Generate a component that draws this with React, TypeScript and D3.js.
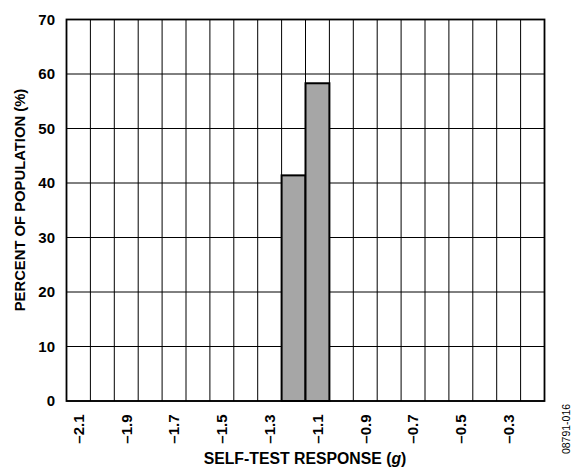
import React from "react";
import * as d3 from "d3";

// Self-test response bins (g) and share of population (%)
const bins: string[] = [
  "-2.1", "-2.0", "-1.9", "-1.8", "-1.7", "-1.6", "-1.5", "-1.4", "-1.3", "-1.2",
  "-1.1", "-1.0", "-0.9", "-0.8", "-0.7", "-0.6", "-0.5", "-0.4", "-0.3", "-0.2",
];
const percents: number[] = [
  0, 0, 0, 0, 0, 0, 0, 0, 0, 41.4,
  58.3, 0, 0, 0, 0, 0, 0, 0, 0, 0,
];
const tickLabels: string[] = ["-2.1", "-1.9", "-1.7", "-1.5", "-1.3", "-1.1", "-0.9", "-0.7", "-0.5", "-0.3"];
const yTicks: number[] = [0, 10, 20, 30, 40, 50, 60, 70];

const W = 573;
const H = 468;
const left = 66.5;
const right = 544.5;
const top = 19.5;
const bottom = 401;
const font = "'Liberation Sans', Arial, Helvetica, sans-serif";
const fs = 15;

const fmt = (s: string) => s.replace("-", "\u2013");

export default function App() {
  const x = d3.scaleBand<string>().domain(bins).range([left, right]).padding(0);
  const y = d3.scaleLinear().domain([0, 70]).range([bottom, top]);
  const bw = x.bandwidth();

  return (
    <svg
      width={W}
      height={H}
      style={{ position: "absolute", left: 0, top: 0, background: "#fff" }}
      fontFamily={font}
    >
      {/* horizontal grid */}
      {yTicks.map((t) => (
        <line key={"h" + t} x1={left} x2={right} y1={y(t)} y2={y(t)} stroke="#000" strokeWidth={1} />
      ))}
      {/* vertical grid */}
      {bins.map((b, i) =>
        i === 0 ? null : (
          <line key={"v" + b} x1={x(b)!} x2={x(b)!} y1={top} y2={bottom} stroke="#000" strokeWidth={1} />
        )
      )}
      {/* bars */}
      {bins.map((b, i) =>
        percents[i] > 0 ? (
          <rect
            key={"bar" + b}
            x={x(b)!}
            y={y(percents[i])}
            width={bw}
            height={bottom - y(percents[i])}
            fill="#a6a6a6"
            stroke="#000"
            strokeWidth={2}
          />
        ) : null
      )}
      {/* frame */}
      <rect x={left} y={top} width={right - left} height={bottom - top} fill="none" stroke="#000" strokeWidth={1.8} />

      {/* y tick labels */}
      {yTicks.map((t) => (
        <text
          key={"yl" + t}
          x={55}
          y={y(t)}
          dy="0.36em"
          textAnchor="end"
          fontSize={fs}
          fontWeight="bold"
        >
          {t}
        </text>
      ))}
      {/* x tick labels */}
      {tickLabels.map((t) => {
        const cx = x(t)! + bw / 2;
        return (
          <text
            key={"xl" + t}
            transform={`translate(${cx + 5.3},${414.5}) rotate(-90)`}
            textAnchor="end"
            fontSize={fs}
            fontWeight="bold"
          >
            {fmt(t)}
          </text>
        );
      })}
      {/* axis titles */}
      <text
        transform={`translate(25,200) rotate(-90)`}
        textAnchor="middle"
        fontSize={14.8}
        fontWeight="bold"
      >
        PERCENT OF POPULATION (%)
      </text>
      <text x={305} y={464} textAnchor="middle" fontSize={15.8} fontWeight="bold">
        SELF-TEST RESPONSE (<tspan fontStyle="italic">g</tspan>)
      </text>
      <text
        transform={`translate(569.5,429) rotate(-90)`}
        textAnchor="middle"
        fontSize={10.5}
        fontFamily="'Liberation Sans Narrow', 'Liberation Sans', Arial, sans-serif"
      >
        08791-016
      </text>
    </svg>
  );
}
